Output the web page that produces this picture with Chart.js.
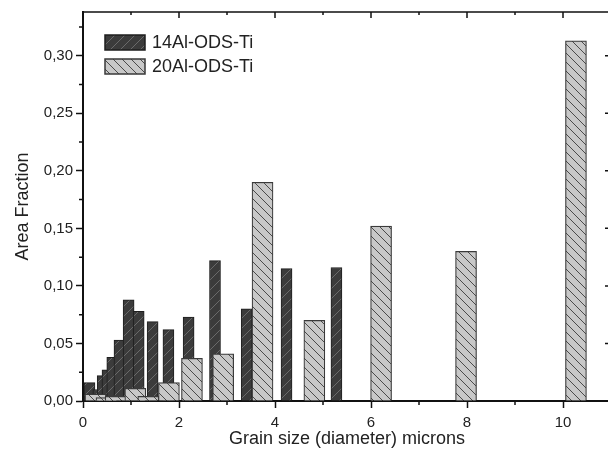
<!DOCTYPE html>
<html>
<head>
<meta charset="utf-8">
<script src="https://cdn.jsdelivr.net/npm/chart.js@4.4.0/dist/chart.umd.min.js"></script>
<style>
html, body { margin: 0; padding: 0; background: #fff; overflow: hidden; }
</style>
</head>
<body>
<canvas id="grain-chart" width="620" height="452"></canvas>
<script>
// grain size (microns) / area fraction
var xDark = [0.135, 0.32, 0.41, 0.51, 0.61, 0.76, 0.95, 1.16, 1.45, 1.78, 2.20, 2.75, 3.41, 4.24, 5.28];
var yDark = [0.016, 0.010, 0.022, 0.027, 0.038, 0.053, 0.088, 0.078, 0.069, 0.062, 0.073, 0.122, 0.080, 0.115, 0.116];

var xLight = [0.26, 0.49, 0.68, 1.09, 1.36, 1.79, 2.27, 2.92, 3.74, 4.82, 6.21, 7.98, 10.27];
var yLight = [0.006, 0.003, 0.004, 0.011, 0.004, 0.016, 0.037, 0.041, 0.190, 0.070, 0.152, 0.130, 0.313];

var xTicks = [0, 2, 4, 6, 8, 10];
var xMinor = [1, 3, 5, 7, 9];
var yTicks = [0, 0.05, 0.10, 0.15, 0.20, 0.25, 0.30];
var yMinor = [0.025, 0.075, 0.125, 0.175, 0.225, 0.275, 0.325];

var font = '"Liberation Sans", Arial, sans-serif';

function hatch(bg, line, size, dir) {
    var c = document.createElement('canvas');
    c.width = size;
    c.height = size;
    var g = c.getContext('2d');
    g.fillStyle = bg;
    g.fillRect(0, 0, size, size);
    g.strokeStyle = line;
    g.lineWidth = 1;
    g.beginPath();
    [-size, 0, size].forEach(function (o) {
        if (dir === 'back') { g.moveTo(o, 0); g.lineTo(o + size, size); }
        else { g.moveTo(o, size); g.lineTo(o + size, 0); }
    });
    g.stroke();
    return g.createPattern(c, 'repeat');
}

function points(xs, ys) {
    return xs.map(function (x, i) { return {x: x, y: ys[i]}; });
}

// minor ticks + the mirrored top / right frame
var frameTicks = {
    id: 'frameTicks',
    afterDraw: function (chart) {
        var ctx = chart.ctx, a = chart.chartArea;
        var sx = chart.scales.x, sy = chart.scales.y;
        ctx.save();
        ctx.strokeStyle = '#111';
        ctx.lineWidth = 1.5;
        ctx.beginPath();
        ctx.moveTo(a.left, a.top);
        ctx.lineTo(a.right, a.top);
        ctx.lineTo(a.right, a.bottom);
        xTicks.forEach(function (v) {
            var p = sx.getPixelForValue(v);
            ctx.moveTo(p, a.top); ctx.lineTo(p, a.top + 6);
        });
        xMinor.forEach(function (v) {
            var p = sx.getPixelForValue(v);
            ctx.moveTo(p, a.top); ctx.lineTo(p, a.top + 3);
            ctx.moveTo(p, a.bottom); ctx.lineTo(p, a.bottom + 4);
        });
        yTicks.forEach(function (v) {
            var p = sy.getPixelForValue(v);
            ctx.moveTo(a.right, p); ctx.lineTo(a.right - 6, p);
        });
        yMinor.forEach(function (v) {
            var p = sy.getPixelForValue(v);
            ctx.moveTo(a.right, p); ctx.lineTo(a.right - 3, p);
            ctx.moveTo(a.left, p); ctx.lineTo(a.left - 4, p);
        });
        ctx.stroke();
        ctx.restore();
    }
};

var legendBoxes = {
    id: 'legendBoxes',
    afterDraw: function (chart) {
        var ctx = chart.ctx, a = chart.chartArea;
        chart.data.datasets.forEach(function (ds, i) {
            var x = a.left + 22, y = a.top + 23 + i * 24;
            ctx.save();
            ctx.fillStyle = ds.backgroundColor;
            ctx.fillRect(x, y, 40, 15);
            ctx.strokeStyle = ds.borderColor;
            ctx.lineWidth = 1.5;
            ctx.strokeRect(x, y, 40, 15);
            ctx.fillStyle = '#222';
            ctx.font = '18px ' + font;
            ctx.textBaseline = 'middle';
            ctx.fillText(ds.label, x + 47, y + 8);
            ctx.restore();
        });
    }
};

var ctx = document.getElementById('grain-chart');
var chart = new Chart(ctx, {
    type: 'bar',
    data: {
        datasets: [{
            label: '14Al-ODS-Ti',
            data: points(xDark, yDark),
            backgroundColor: hatch('#3b3b3b', '#6a6a6a', 10, 'fwd'),
            borderColor: '#1e1e1e',
            borderWidth: 1,
            barThickness: 11,
            order: 2
        }, {
            label: '20Al-ODS-Ti',
            data: points(xLight, yLight),
            backgroundColor: hatch('#c8c8c8', '#4a4a4a', 9, 'back'),
            borderColor: '#3a3a3a',
            borderWidth: 1.2,
            barThickness: 21,
            order: 1
        }]
    },
    options: {
        responsive: false,
        animation: false,
        grouped: false,
        layout: {padding: {top: 9, right: 9, left: 0, bottom: 0}},
        plugins: {
            legend: {display: false},
            tooltip: {enabled: false}
        },
        scales: {
            x: {
                type: 'linear',
                min: 0,
                max: 11,
                offset: false,
                grid: {offset: false, drawOnChartArea: false, tickLength: 7, tickColor: '#111', tickWidth: 1.5},
                border: {color: '#111', width: 2},
                afterBuildTicks: function (s) { s.ticks = xTicks.map(function (v) { return {value: v}; }); },
                afterFit: function (s) { s.height = 51; },
                ticks: {
                    padding: 6,
                    maxRotation: 0,
                    color: '#222',
                    font: {family: font, size: 15},
                    callback: function (v) { return v; }
                },
                title: {
                    display: true,
                    text: 'Grain size (diameter) microns',
                    color: '#222',
                    font: {family: font, size: 18},
                    padding: {top: 0, bottom: 2}
                }
            },
            y: {
                min: 0,
                max: 0.338,
                grid: {drawOnChartArea: false, tickLength: 7, tickColor: '#111', tickWidth: 1.5},
                border: {color: '#111', width: 2},
                afterBuildTicks: function (s) { s.ticks = yTicks.map(function (v) { return {value: v}; }); },
                afterFit: function (s) { s.width = 83; },
                ticks: {
                    padding: 3,
                    color: '#222',
                    font: {family: font, size: 15},
                    callback: function (v) { return v.toFixed(2).replace('.', ','); }
                },
                title: {
                    display: true,
                    text: 'Area Fraction',
                    color: '#222',
                    font: {family: font, size: 18},
                    padding: {top: 12, bottom: 0}
                }
            }
        }
    },
    plugins: [frameTicks, legendBoxes]
});
</script>
</body>
</html>
